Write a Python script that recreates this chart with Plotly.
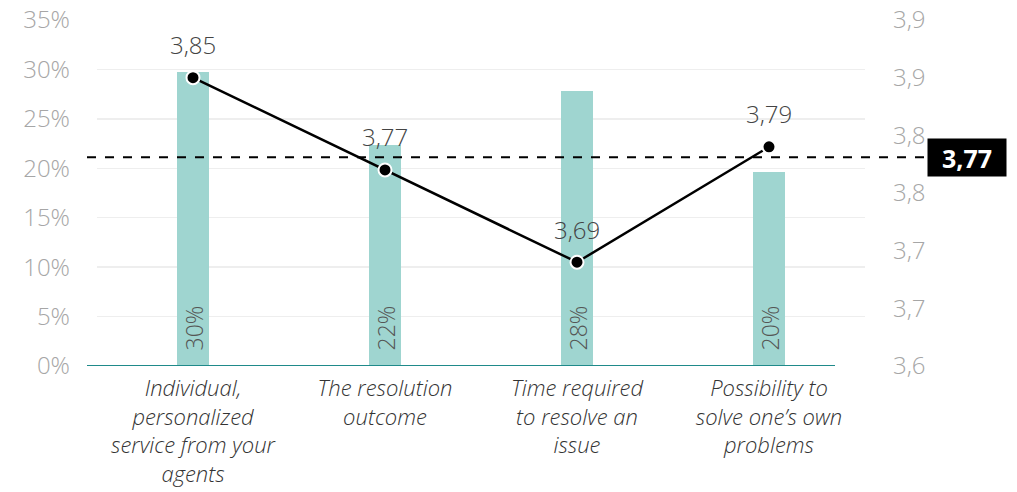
import plotly.graph_objects as go

categories = [
    "Individual,<br>personalized<br>service from your<br>agents",
    "The resolution<br>outcome",
    "Time required<br>to resolve an<br>issue",
    "Possibility to<br>solve one’s own<br>problems",
]
share_values = [0.297, 0.224, 0.278, 0.196]
score_values = [3.85, 3.77, 3.69, 3.79]
average_score = 3.781
average_label = "3,77"
left_ticks = [0, 0.05, 0.10, 0.15, 0.20, 0.25, 0.30, 0.35]
right_tickvals = [3.6, 3.65, 3.7, 3.75, 3.8, 3.85, 3.9]
right_ticktext = ["3,6", "3,7", "3,7", "3,8", "3,8", "3,9", "3,9"]

FONT = "Open Sans"
W, H = 1017, 492
L, R, T, B = 97, 152, 20, 126
pw = W - L - R

def px(xpage):
    return (xpage - L) / pw

fig = go.Figure()
fig.add_trace(go.Bar(
    x=categories, y=share_values, width=0.167,
    marker=dict(color="#9fd5d0", line=dict(width=0)),
    hoverinfo="skip",
))
for c, v in zip(categories, share_values):
    fig.add_annotation(
        x=c, y=0, text=f"{round(v * 100)}%", textangle=-90,
        showarrow=False, yanchor="bottom", yshift=13,
        font=dict(family=FONT, size=23, color="#555555", weight=300),
    )
fig.add_trace(go.Scatter(
    x=categories, y=score_values, yaxis="y2", mode="lines+markers",
    line=dict(color="black", width=2.5),
    marker=dict(color="black", size=13, line=dict(color="white", width=2)),
    cliponaxis=False, hoverinfo="skip",
))
for c, v in zip(categories, score_values):
    fig.add_annotation(
        x=c, y=v, yref="y2", text=f"{v:.2f}".replace(".", ","),
        showarrow=False, yshift=33,
        font=dict(family=FONT, size=24, color="#444444", weight=300),
    )

# average dashed line with label box
fig.add_shape(type="line", xref="paper", yref="y2",
              x0=px(87), x1=px(926), y0=average_score, y1=average_score,
              line=dict(color="black", width=2.2, dash="dash"))
fig.add_annotation(
    xref="paper", yref="y2", x=px(927), y=average_score, xanchor="left",
    text=f"<b>{average_label}</b>", showarrow=False,
    font=dict(family=FONT, size=25, color="white"),
    bgcolor="black", borderpad=2, width=74, height=33,
)
# teal baseline
fig.add_shape(type="line", xref="paper", yref="y",
              x0=px(87), x1=px(835), y0=0, y1=0,
              line=dict(color="#1f8a8a", width=2))

fig.update_layout(
    width=W, height=H, margin=dict(l=L, r=R, t=T, b=B, autoexpand=False),
    paper_bgcolor="white", plot_bgcolor="white",
    showlegend=False, separators=", ", bargap=0,
    xaxis=dict(
        showgrid=False, zeroline=False, showline=False, ticks="", automargin=False,
        tickfont=dict(family=FONT, size=22, color="#333333", style="italic", weight=300),
        ticklabelstandoff=7,
    ),
    yaxis=dict(
        range=[0, 0.35], tickvals=left_ticks, tickformat=".0%", automargin=False,
        showgrid=True, gridcolor="#eeeeee", gridwidth=1.5,
        zeroline=False, showline=False, ticks="", ticklabeloverflow="allow",
        tickfont=dict(family=FONT, size=24, color="#a6a6a6", weight=300),
        ticklabelstandoff=26,
    ),
    yaxis2=dict(
        range=[3.6, 3.9], overlaying="y", side="right", automargin=False,
        tickvals=right_tickvals, ticktext=right_ticktext, ticklabeloverflow="allow",
        showgrid=False, zeroline=False, showline=False, ticks="",
        tickfont=dict(family=FONT, size=24, color="#a6a6a6", weight=300),
        ticklabelstandoff=27,
    ),
)

fig.write_html(
    "out.html",
    config={"displayModeBar": False, "staticPlot": True},
    post_script="document.body.style.margin='0';document.body.style.overflow='hidden';",
)
